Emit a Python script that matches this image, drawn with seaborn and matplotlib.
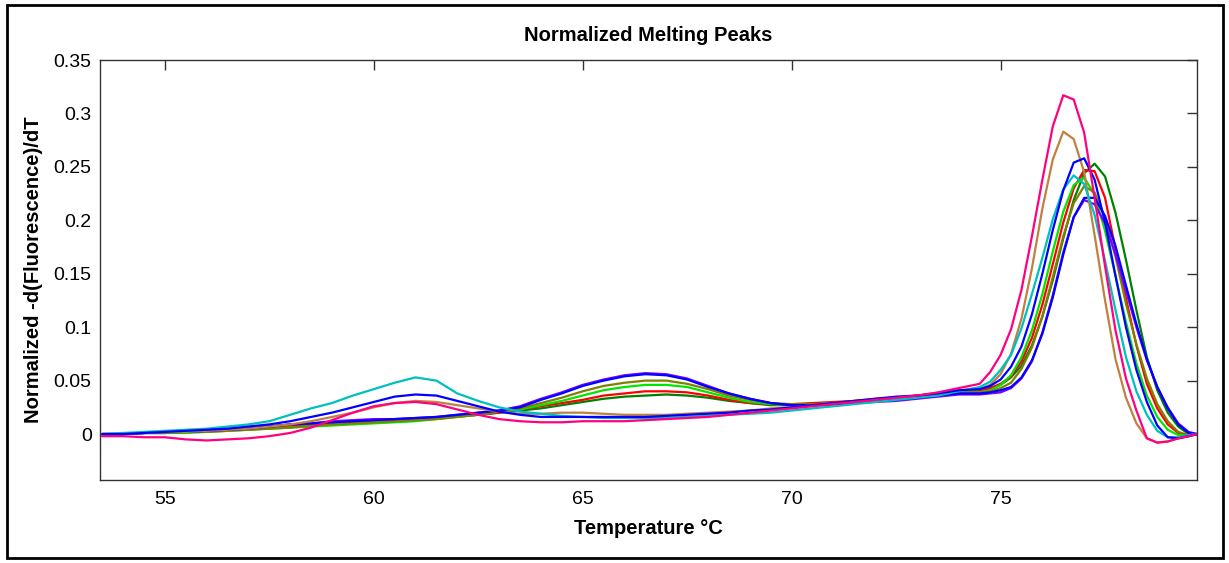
import matplotlib
matplotlib.use("Agg")
import matplotlib.pyplot as plt
from matplotlib import font_manager
from matplotlib.patches import Rectangle
import pandas as pd
import seaborn as sns

# temperature grid (°C), coarse on the shoulders, finer under the main peak
TEMP_LOW = [53.5, 54.0, 54.5, 55.0, 55.5, 56.0, 56.5, 57.0, 57.5, 58.0, 58.5,
            59.0, 59.5, 60.0, 60.5, 61.0, 61.5, 62.0, 62.5, 63.0, 63.5, 64.0,
            64.5, 65.0, 65.5, 66.0, 66.5, 67.0, 67.5, 68.0, 68.5, 69.0, 69.5,
            70.0, 70.5, 71.0, 71.5, 72.0, 72.5, 73.0, 73.5, 74.0]
TEMP_HIGH = [74.5, 74.75, 75.0, 75.25, 75.5, 75.75, 76.0, 76.25, 76.5, 76.75,
             77.0, 77.25, 77.5, 77.75, 78.0, 78.25, 78.5, 78.75, 79.0, 79.25,
             79.5, 79.7]
TEMPERATURE = TEMP_LOW + TEMP_HIGH

# normalized -d(F)/dT per sample
DARK_GREEN = [0.0, 0.0, 0.001, 0.001, 0.002, 0.003, 0.004, 0.005, 0.006, 0.008, 0.009,
              0.010, 0.011, 0.012, 0.013, 0.014, 0.015, 0.017, 0.018, 0.020, 0.022, 0.024,
              0.027, 0.030, 0.033, 0.035, 0.036, 0.037, 0.036, 0.034, 0.031, 0.029, 0.027,
              0.027, 0.028, 0.029, 0.031, 0.032, 0.034, 0.035, 0.037, 0.039,
              0.041, 0.043, 0.046, 0.053, 0.064, 0.083, 0.110, 0.144, 0.183, 0.219,
              0.244, 0.253, 0.241, 0.207, 0.163, 0.116, 0.072, 0.041, 0.020, 0.007,
              0.0, 0.0]
RED = [0.0, 0.0, 0.001, 0.001, 0.002, 0.003, 0.004, 0.005, 0.006, 0.008, 0.009,
       0.010, 0.011, 0.012, 0.013, 0.014, 0.015, 0.017, 0.018, 0.020, 0.023, 0.026,
       0.029, 0.032, 0.036, 0.038, 0.040, 0.040, 0.039, 0.036, 0.032, 0.029, 0.028,
       0.028, 0.029, 0.030, 0.031, 0.033, 0.034, 0.036, 0.038, 0.040,
       0.041, 0.043, 0.047, 0.054, 0.068, 0.090, 0.121, 0.159, 0.198, 0.230,
       0.247, 0.246, 0.221, 0.173, 0.127, 0.083, 0.047, 0.024, 0.009, 0.001,
       -0.002, 0.0]
LIME = [0.0, 0.0, 0.001, 0.001, 0.001, 0.002, 0.003, 0.004, 0.005, 0.006, 0.007,
        0.008, 0.009, 0.010, 0.011, 0.012, 0.014, 0.016, 0.018, 0.021, 0.023, 0.027,
        0.031, 0.036, 0.041, 0.044, 0.046, 0.046, 0.044, 0.039, 0.034, 0.030, 0.028,
        0.027, 0.027, 0.028, 0.030, 0.031, 0.033, 0.034, 0.036, 0.039,
        0.039, 0.041, 0.046, 0.055, 0.072, 0.097, 0.131, 0.171, 0.208, 0.233,
        0.240, 0.224, 0.190, 0.148, 0.105, 0.066, 0.036, 0.016, 0.004, -0.001,
        -0.001, 0.0]
OLIVE = [0.0, 0.0, 0.001, 0.001, 0.002, 0.002, 0.003, 0.004, 0.005, 0.006, 0.008,
         0.009, 0.010, 0.011, 0.012, 0.013, 0.014, 0.016, 0.018, 0.021, 0.024, 0.029,
         0.034, 0.040, 0.045, 0.048, 0.050, 0.050, 0.047, 0.042, 0.036, 0.032, 0.029,
         0.028, 0.028, 0.029, 0.030, 0.031, 0.033, 0.035, 0.037, 0.039,
         0.039, 0.040, 0.043, 0.048, 0.061, 0.081, 0.110, 0.147, 0.185, 0.216,
         0.232, 0.226, 0.202, 0.166, 0.122, 0.084, 0.052, 0.028, 0.012, 0.002,
         -0.001, 0.0]
PURPLE = [0.0, 0.0, 0.001, 0.002, 0.002, 0.003, 0.004, 0.005, 0.007, 0.009, 0.010,
          0.012, 0.013, 0.014, 0.014, 0.015, 0.016, 0.018, 0.020, 0.022, 0.026, 0.033,
          0.039, 0.046, 0.051, 0.055, 0.057, 0.056, 0.052, 0.045, 0.038, 0.033, 0.029,
          0.027, 0.027, 0.028, 0.029, 0.030, 0.031, 0.033, 0.035, 0.037,
          0.037, 0.038, 0.039, 0.043, 0.052, 0.068, 0.095, 0.130, 0.170, 0.203,
          0.219, 0.215, 0.197, 0.168, 0.134, 0.100, 0.069, 0.044, 0.025, 0.010,
          0.002, 0.0]
BLUE_2 = [0.0, 0.0, 0.001, 0.002, 0.002, 0.003, 0.004, 0.005, 0.007, 0.009, 0.010,
          0.011, 0.012, 0.013, 0.014, 0.015, 0.016, 0.018, 0.020, 0.022, 0.025, 0.032,
          0.038, 0.045, 0.050, 0.054, 0.056, 0.055, 0.051, 0.044, 0.038, 0.033, 0.029,
          0.027, 0.027, 0.028, 0.029, 0.031, 0.032, 0.034, 0.036, 0.038,
          0.038, 0.039, 0.041, 0.044, 0.053, 0.069, 0.094, 0.128, 0.168, 0.203,
          0.221, 0.221, 0.204, 0.176, 0.139, 0.103, 0.070, 0.044, 0.024, 0.009,
          0.001, 0.0]
TAN = [0.0, 0.0, 0.001, 0.002, 0.002, 0.003, 0.004, 0.005, 0.007, 0.009, 0.012,
       0.016, 0.020, 0.025, 0.029, 0.031, 0.030, 0.027, 0.024, 0.021, 0.019, 0.019,
       0.020, 0.020, 0.019, 0.018, 0.018, 0.018, 0.019, 0.020, 0.021, 0.022, 0.024,
       0.025, 0.027, 0.029, 0.030, 0.032, 0.034, 0.036, 0.038, 0.041,
       0.042, 0.046, 0.056, 0.075, 0.108, 0.155, 0.211, 0.257, 0.283, 0.276,
       0.245, 0.186, 0.125, 0.070, 0.034, 0.010, -0.004, -0.008, -0.007, -0.004,
       -0.002, 0.0]
CYAN = [0.0, 0.001, 0.002, 0.003, 0.004, 0.005, 0.007, 0.009, 0.012, 0.018, 0.024,
        0.029, 0.036, 0.042, 0.048, 0.053, 0.050, 0.038, 0.031, 0.025, 0.021, 0.019,
        0.017, 0.016, 0.015, 0.015, 0.015, 0.015, 0.016, 0.017, 0.018, 0.019, 0.020,
        0.022, 0.024, 0.026, 0.028, 0.030, 0.032, 0.034, 0.036, 0.040,
        0.044, 0.049, 0.060, 0.074, 0.099, 0.131, 0.165, 0.201, 0.229, 0.242,
        0.234, 0.205, 0.162, 0.116, 0.072, 0.040, 0.018, 0.003, -0.003, -0.003,
        -0.001, 0.0]
BLUE = [0.0, 0.0, 0.001, 0.002, 0.003, 0.004, 0.005, 0.007, 0.009, 0.012, 0.016,
        0.020, 0.025, 0.030, 0.035, 0.037, 0.036, 0.031, 0.026, 0.021, 0.018, 0.016,
        0.016, 0.016, 0.016, 0.016, 0.016, 0.017, 0.018, 0.019, 0.020, 0.022, 0.023,
        0.025, 0.027, 0.029, 0.031, 0.033, 0.035, 0.036, 0.038, 0.041,
        0.042, 0.045, 0.051, 0.063, 0.082, 0.112, 0.150, 0.191, 0.228, 0.254,
        0.258, 0.238, 0.198, 0.148, 0.100, 0.060, 0.030, 0.008, -0.003, -0.004,
        -0.002, 0.0]
PINK = [-0.002, -0.002, -0.003, -0.003, -0.005, -0.006, -0.005, -0.004, -0.002, 0.001, 0.006,
        0.013, 0.020, 0.026, 0.029, 0.030, 0.028, 0.023, 0.018, 0.014, 0.012, 0.011,
        0.011, 0.012, 0.012, 0.012, 0.013, 0.014, 0.015, 0.016, 0.018, 0.020, 0.022,
        0.024, 0.026, 0.028, 0.030, 0.032, 0.034, 0.036, 0.039, 0.043,
        0.047, 0.058, 0.074, 0.098, 0.135, 0.185, 0.238, 0.288, 0.317, 0.313,
        0.282, 0.221, 0.157, 0.097, 0.052, 0.022, -0.004, -0.008, -0.007, -0.004,
        -0.002, 0.0]

SAMPLES = ["dark green", "red", "lime", "olive", "purple", "blue 2",
           "tan", "cyan", "blue", "pink"]
SERIES = [DARK_GREEN, RED, LIME, OLIVE, PURPLE, BLUE_2, TAN, CYAN, BLUE, PINK]
COLORS = ["#008000", "#FF0000", "#00E600", "#808000", "#8000FF", "#0000FF",
          "#C08040", "#00BFBF", "#0000FF", "#FF0080"]

X_TICKS = [55, 60, 65, 70, 75]
Y_TICKS = [0, 0.05, 0.1, 0.15, 0.2, 0.25, 0.3, 0.35]
Y_TICK_LABELS = ["0", "0.05", "0.1", "0.15", "0.2", "0.25", "0.3", "0.35"]


def has_font(name):
    try:
        font_manager.findfont(name, fallback_to_default=False)
        return True
    except ValueError:
        return False


def main():
    sns.set_theme(style="white")
    if has_font("Liberation Sans Narrow"):
        family, tick_size, label_size = "Liberation Sans Narrow", 15.5, 16
    else:
        family, tick_size, label_size = "Liberation Sans", 14, 14.5
    plt.rcParams["font.family"] = [family, "DejaVu Sans"]
    plt.rcParams["text.color"] = "black"
    plt.rcParams["axes.labelcolor"] = "black"

    rows = []
    for name, values in zip(SAMPLES, SERIES):
        for t, v in zip(TEMPERATURE, values):
            rows.append({"temp": t, "value": v, "sample": name})
    df = pd.DataFrame(rows)

    W, H = 1229, 563
    fig = plt.figure(figsize=(W / 100, H / 100), dpi=100)
    ax = fig.add_axes([100 / W, (H - 480) / H, 1097 / W, 420 / H])

    sns.lineplot(data=df, x="temp", y="value", hue="sample", hue_order=SAMPLES,
                 palette=dict(zip(SAMPLES, COLORS)), linewidth=1.6,
                 legend=False, ax=ax, sort=False, estimator=None)

    ax.set_xlim(53.45, 79.7)
    ax.set_ylim(-0.043, 0.35)
    ax.set_xticks(X_TICKS)
    ax.set_xticklabels([str(t) for t in X_TICKS])
    ax.set_yticks(Y_TICKS)
    ax.set_yticklabels(Y_TICK_LABELS)
    ax.tick_params(direction="in", length=7, width=1, color="#333333",
                   labelcolor="black", top=True, right=True,
                   labelsize=tick_size)
    ax.tick_params(axis="x", pad=8)
    ax.tick_params(axis="y", pad=6)
    for side in ax.spines.values():
        side.set_color("#333333")
        side.set_linewidth(1)

    ax.set_title("Normalized Melting Peaks", fontsize=label_size,
                 fontweight="bold", pad=14, color="black")
    ax.set_xlabel("Temperature °C", fontsize=label_size, fontweight="bold",
                  labelpad=8)
    ax.set_ylabel("Normalized -d(Fluorescence)/dT", fontsize=label_size,
                  fontweight="bold", labelpad=8)

    # outer frame around the whole picture
    fig.add_artist(Rectangle((7 / W, 5 / H), 1216 / W, 553 / H,
                             transform=fig.transFigure, fill=False,
                             edgecolor="black", linewidth=2))

    fig.savefig("out.png", dpi=100)
    plt.close(fig)


if __name__ == "__main__":
    main()
